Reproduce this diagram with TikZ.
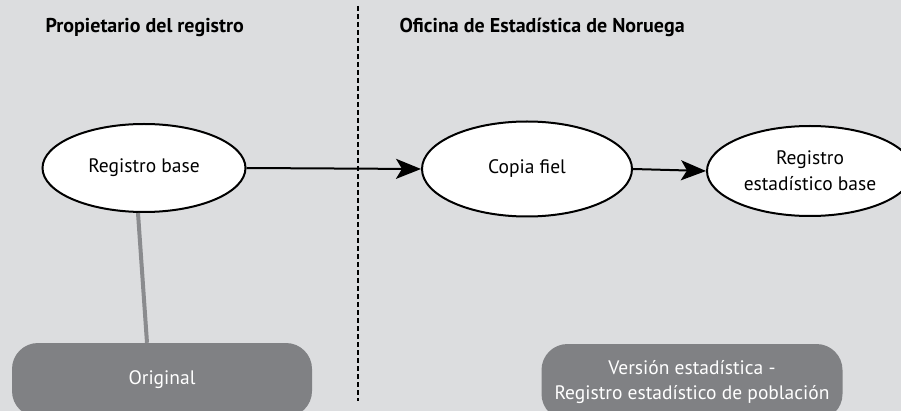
\documentclass[tikz,border=0pt]{standalone}
\usepackage{fontspec}
\setmainfont{PT Sans}
\usetikzlibrary{shapes.geometric,arrows.meta}
\definecolor{bg}{HTML}{DCDDDF}
\definecolor{boxgray}{HTML}{808184}
\definecolor{linegray}{HTML}{8A8B8E}
\tikzset{
  oval/.style={ellipse, draw=black, line width=2pt, fill=white, inner sep=0pt,
    align=center, font=\fontsize{19.5}{26}\selectfont},
  pill/.style={rectangle, rounded corners=26pt, fill=boxgray, text=white,
    align=center, font=\fontsize{19.5}{25.5}\selectfont, inner sep=0pt},
  head/.style={anchor=base west, font=\bfseries\fontsize{20}{24}\selectfont},
  flow/.style={line width=2pt, -{Stealth[length=25pt,width=20pt,inset=6pt]}},
  divider/.style={line width=2.8pt, dash pattern=on 5pt off 3pt}
}
\begin{document}
\begin{tikzpicture}[x=1pt,y=-1pt]
\useasboundingbox (0,0) rectangle (901,411);
\clip (0,0) rectangle (901,411);
\fill[bg] (0,0) rectangle (901,411);
\coordinate (dtop) at (358,6);
\coordinate (dbot) at (358,401);
\draw[divider] (dtop) -- (dbot);
\node[head] (h1) at (42,33) {Propietario del registro};
\node[head] (h2) at (396,33) {Oficina de Estadística de Noruega};
\node[oval, minimum width=203pt, minimum height=88pt] (e1) at (144,168) {Registro base};
\node[oval, minimum width=210pt, minimum height=95pt] (e2) at (527,169) {Copia fiel};
\node[oval, minimum width=206pt, minimum height=90pt] (e3) at (810,171) {Registro\\estadístico base};
\node[pill, minimum width=300pt, minimum height=74pt] (o) at (162,380) {Original};
\node[pill, minimum width=301pt, minimum height=76pt] (v) at (692,382) {Versión estadística -\\Registro estadístico de población};
\draw[linegray, line width=4pt] ([xshift=-6pt]e1.south) -- ([xshift=-15pt]o.north);
\draw[flow] (e1.east) -- (e2.west);
\draw[flow] (e2.east) -- (e3.west);
\end{tikzpicture}
\end{document}
